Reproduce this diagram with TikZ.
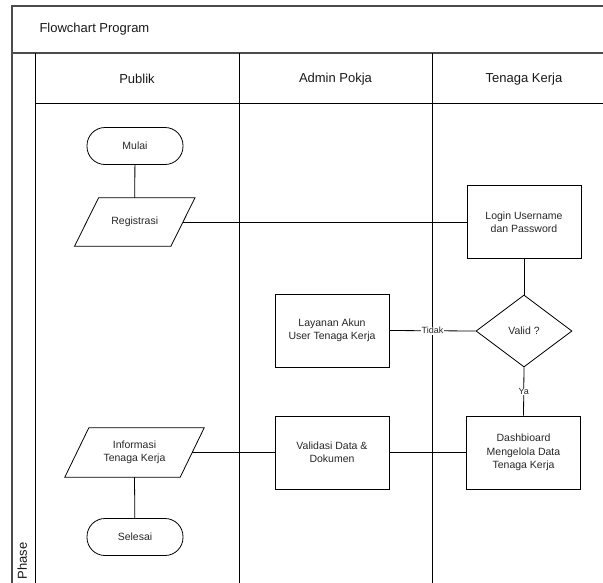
\documentclass[tikz,border=0pt]{standalone}
\usepackage{fontspec}
\setmainfont{Liberation Sans}
\usetikzlibrary{shapes.geometric}
\begin{document}
\begin{tikzpicture}[x=1pt,y=-1pt,
  frame/.style={line width=1.1pt, draw=black!70},
  lane/.style={line width=0.8pt, draw=black},
  flow/.style={line width=0.8pt, draw=black},
  small/.style={font=\fontsize{10.5}{13.3}\selectfont, text=black!85},
  head/.style={font=\fontsize{13}{15}\selectfont, text=black!90},
  proc/.style={small, draw, line width=0.8pt, minimum width=114pt, minimum height=73pt, align=center, inner sep=2pt},
  term/.style={small, draw, line width=0.8pt, rounded corners=18pt, minimum width=96pt, minimum height=37pt},
  iobody/.style={small, align=center, inner sep=1pt},
  decide/.style={small, draw, line width=0.8pt, diamond, minimum width=96pt, minimum height=72pt, inner sep=0pt},
  tag/.style={font=\fontsize{9}{10}\selectfont, text=black!85, fill=white, inner sep=0.5pt}
]
\useasboundingbox (0,0) rectangle (603,582);

% swimlane frame
\draw[frame] (12,583) -- (12,6) -- (604,6);
\draw[frame] (12,53) -- (604,53);
\draw[lane] (35,53) -- (35,583);
\draw[lane] (35,103) -- (604,103);
\draw[lane] (239,53) -- (239,583);
\draw[lane] (432,53) -- (432,583);

\node[head, anchor=west] (title) at (36,29) {Flowchart Program};
\node[head] (hpub) at (137,79) {Publik};
\node[head] (hadm) at (335.5,79) {Admin Pokja};
\node[head] (hten) at (524,79) {Tenaga Kerja};
\node[head, rotate=90, anchor=base west] (phase) at (27,583) {Phase};

% flow nodes
\node[term] (mulai) at (135,146) {Mulai};
\node[iobody, minimum width=96pt, minimum height=48pt] (reg) at (134.75,222) {Registrasi};
\draw[flow] ([xshift=12pt]reg.north west) -- ([xshift=12pt]reg.north east)
  -- ([xshift=-12pt]reg.south east) -- ([xshift=-12pt]reg.south west) -- cycle;
\node[proc] (login) at (524,222) {Login Username\\dan Password};
\node[decide] (valid) at (524,331) {Valid ?};
\node[proc] (layanan) at (332,330.5) {Layanan Akun\\User Tenaga Kerja};
\node[proc] (dash) at (523.5,452.5) {Dashbioard\\Mengelola Data\\Tenaga Kerja};
\node[proc] (validasi) at (332,452.5) {Validasi Data \&\\Dokumen};
\node[iobody, minimum width=115pt, minimum height=49pt] (info) at (134.5,452.5) {Informasi\\Tenaga Kerja};
\draw[flow] ([xshift=12pt]info.north west) -- ([xshift=12pt]info.north east)
  -- ([xshift=-12pt]info.south east) -- ([xshift=-12pt]info.south west) -- cycle;
\node[term] (selesai) at (135,537) {Selesai};

% connectors
\draw[flow] (mulai) -- (reg.north);
\draw[flow] (reg.east) -- (login.west);
\draw[flow] (login) -- (valid);
\draw[flow] (valid.west) -- node[tag] {Tidak} (layanan.east);
\draw[flow] (valid.south) -- node[tag] {Ya} (dash.north);
\draw[flow] (dash.west) -- (validasi.east);
\draw[flow] (validasi.west) -- (info.east);
\draw[flow] (info.south) -- (selesai);
\end{tikzpicture}
\end{document}
